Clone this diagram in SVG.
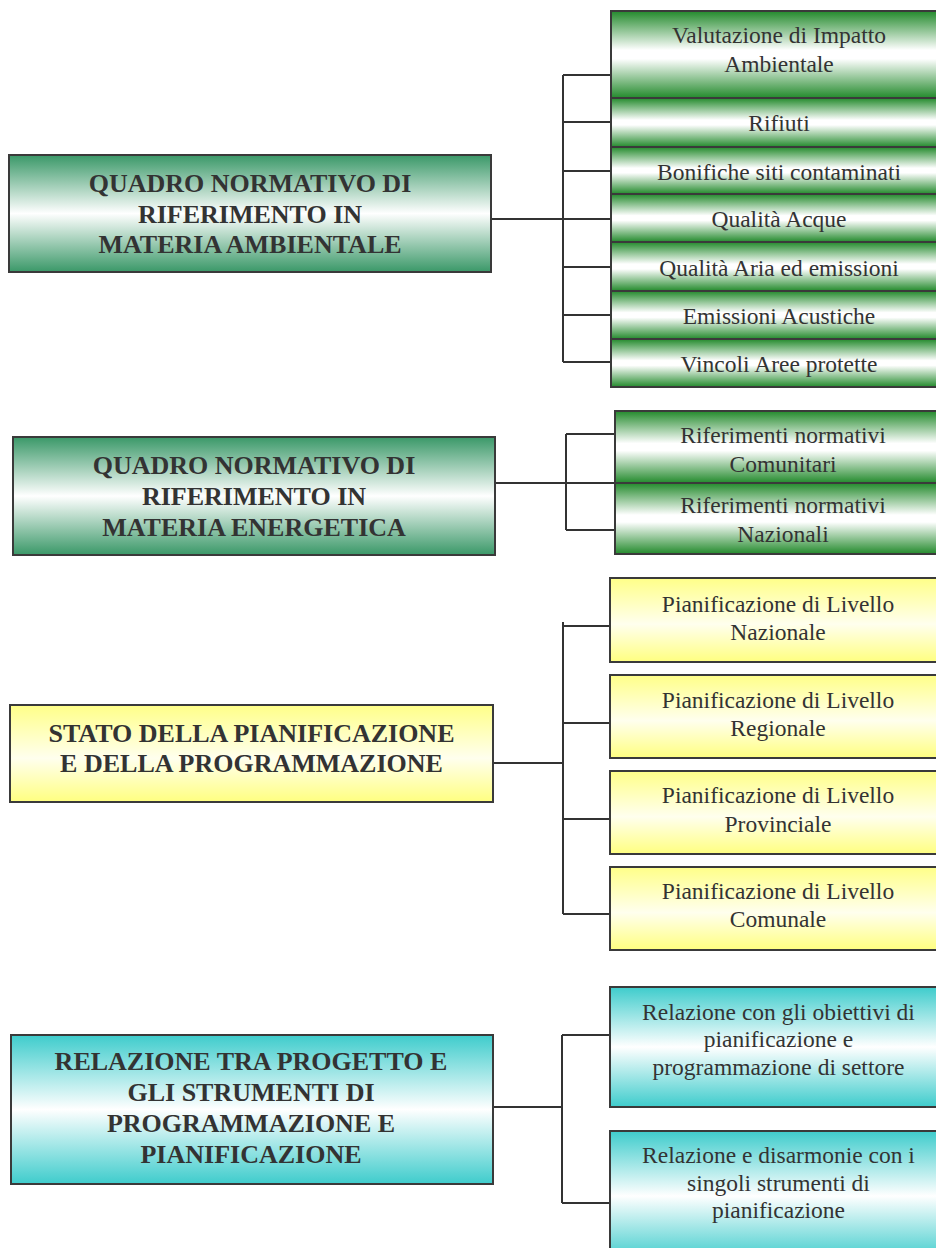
<svg xmlns="http://www.w3.org/2000/svg" width="936" height="1248" viewBox="0 0 936 1248">
<defs>
<linearGradient id="gMain" x1="0" y1="0" x2="0" y2="1">
<stop offset="0" stop-color="#3a9868"/><stop offset="0.5" stop-color="#ffffff"/><stop offset="1" stop-color="#3a9868"/>
</linearGradient>
<linearGradient id="gSub" x1="0" y1="0" x2="0" y2="1">
<stop offset="0" stop-color="#238a2c"/><stop offset="0.45" stop-color="#ffffff"/><stop offset="0.55" stop-color="#ffffff"/><stop offset="1" stop-color="#238a2c"/>
</linearGradient>
<linearGradient id="gYel" x1="0" y1="0" x2="0" y2="1">
<stop offset="0" stop-color="#ffff88"/><stop offset="0.55" stop-color="#ffffee"/><stop offset="1" stop-color="#ffff80"/>
</linearGradient>
<linearGradient id="gCyan" x1="0" y1="0" x2="0" y2="1">
<stop offset="0" stop-color="#3ecccc"/><stop offset="0.5" stop-color="#ffffff"/><stop offset="1" stop-color="#3ecccc"/>
</linearGradient>
</defs>
<style>
rect{stroke:#3a3a3a;stroke-width:2}
.m{font-family:"Liberation Serif","Times New Roman",serif;font-size:26px;font-weight:bold;fill:#333;text-anchor:middle}
.s{font-family:"Liberation Serif","Times New Roman",serif;font-size:23.5px;fill:#333;text-anchor:middle}
#connectors path{fill:none;stroke:#333;stroke-width:2}
</style>
<rect width="936" height="1248" fill="#ffffff" style="stroke:none"/>

<g id="connectors">
<path d="M491 219H563M563 75V362M563 75H611M563 122H611M563 171H611M563 219H611M563 267H611M563 315H611M563 362H611"/>
<path d="M495 483H615M566 434V530M566 434H615M566 530H615"/>
<path d="M492 763H563M563 622V914M563 626H610M563 723H610M563 819H610M563 914H610"/>
<path d="M493 1107H562M562 1035V1203M562 1035H610M562 1203H610"/>
</g>

<g id="main-ambientale">
<rect x="9" y="155" width="482" height="117" fill="url(#gMain)"/>
<text class="m" x="250" y="192">QUADRO NORMATIVO DI</text>
<text class="m" x="250" y="223">RIFERIMENTO IN</text>
<text class="m" x="250" y="253">MATERIA AMBIENTALE</text>
</g>
<g id="via"><rect x="611" y="11" width="340" height="87" fill="url(#gSub)"/>
<text class="s" x="779" y="43">Valutazione di Impatto</text><text class="s" x="779" y="72">Ambientale</text></g>
<g id="rifiuti"><rect x="611" y="98" width="340" height="49" fill="url(#gSub)"/>
<text class="s" x="779" y="131">Rifiuti</text></g>
<g id="bonifiche"><rect x="611" y="147" width="340" height="47" fill="url(#gSub)"/>
<text class="s" x="779" y="179.5">Bonifiche siti contaminati</text></g>
<g id="acque"><rect x="611" y="194" width="340" height="48" fill="url(#gSub)"/>
<text class="s" x="779" y="227">Qualità Acque</text></g>
<g id="aria"><rect x="611" y="242" width="340" height="49" fill="url(#gSub)"/>
<text class="s" x="779" y="276">Qualità Aria ed emissioni</text></g>
<g id="acustiche"><rect x="611" y="291" width="340" height="48" fill="url(#gSub)"/>
<text class="s" x="779" y="324">Emissioni Acustiche</text></g>
<g id="vincoli"><rect x="611" y="339" width="340" height="48" fill="url(#gSub)"/>
<text class="s" x="779" y="372">Vincoli Aree protette</text></g>

<g id="main-energetica">
<rect x="13" y="437" width="482" height="118" fill="url(#gMain)"/>
<text class="m" x="254" y="474">QUADRO NORMATIVO DI</text>
<text class="m" x="254" y="505">RIFERIMENTO IN</text>
<text class="m" x="254" y="536">MATERIA ENERGETICA</text>
</g>
<g id="comunitari"><rect x="615" y="411" width="340" height="72" fill="url(#gSub)"/>
<text class="s" x="783" y="443">Riferimenti normativi</text><text class="s" x="783" y="472">Comunitari</text></g>
<g id="nazionali"><rect x="615" y="483" width="340" height="71" fill="url(#gSub)"/>
<text class="s" x="783" y="513">Riferimenti normativi</text><text class="s" x="783" y="542">Nazionali</text></g>

<g id="main-pianificazione">
<rect x="10" y="705" width="483" height="97" fill="url(#gYel)"/>
<text class="m" x="251.5" y="742">STATO DELLA PIANIFICAZIONE</text>
<text class="m" x="251.5" y="772">E DELLA PROGRAMMAZIONE</text>
</g>
<g id="nazionale"><rect x="610" y="578" width="340" height="84" fill="url(#gYel)"/>
<text class="s" x="778" y="612">Pianificazione di Livello</text><text class="s" x="778" y="640">Nazionale</text></g>
<g id="regionale"><rect x="610" y="675" width="340" height="83" fill="url(#gYel)"/>
<text class="s" x="778" y="708">Pianificazione di Livello</text><text class="s" x="778" y="736">Regionale</text></g>
<g id="provinciale"><rect x="610" y="771" width="340" height="83" fill="url(#gYel)"/>
<text class="s" x="778" y="803">Pianificazione di Livello</text><text class="s" x="778" y="832">Provinciale</text></g>
<g id="comunale"><rect x="610" y="867" width="340" height="83" fill="url(#gYel)"/>
<text class="s" x="778" y="899">Pianificazione di Livello</text><text class="s" x="778" y="927">Comunale</text></g>

<g id="main-relazione">
<rect x="11" y="1035" width="482" height="149" fill="url(#gCyan)"/>
<text class="m" x="251" y="1070">RELAZIONE TRA PROGETTO E</text>
<text class="m" x="251" y="1101">GLI STRUMENTI DI</text>
<text class="m" x="251" y="1132">PROGRAMMAZIONE E</text>
<text class="m" x="251" y="1163">PIANIFICAZIONE</text>
</g>
<g id="obiettivi"><rect x="610" y="987" width="340" height="120" fill="url(#gCyan)"/>
<text class="s" x="778.5" y="1020">Relazione con gli obiettivi di</text><text class="s" x="778.5" y="1047">pianificazione e</text><text class="s" x="778.5" y="1075">programmazione di settore</text></g>
<g id="disarmonie"><rect x="610" y="1131" width="340" height="130" fill="url(#gCyan)"/>
<text class="s" x="778.5" y="1163">Relazione e disarmonie con i</text><text class="s" x="778.5" y="1191">singoli strumenti di</text><text class="s" x="778.5" y="1218">pianificazione</text></g>
</svg>
